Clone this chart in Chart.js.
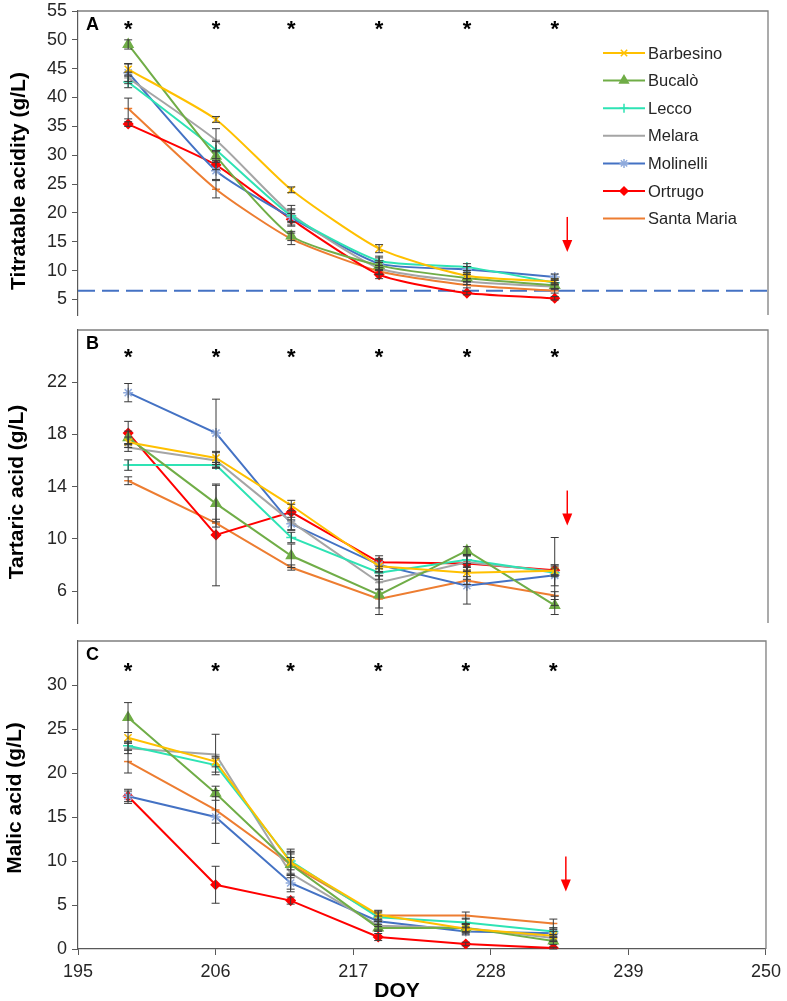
<!DOCTYPE html>
<html>
<head>
<meta charset="utf-8">
<script src="https://cdn.jsdelivr.net/npm/chart.js@4.4.1/dist/chart.umd.min.js"></script>
<style>
  body { margin: 0; background: #fff; }
  #wrap { position: relative; width: 787px; height: 1001px; }
  canvas { position: absolute; left: 0; }
</style>
</head>
<body>
<div id="wrap">
  <canvas id="chartA" width="787" height="322" style="top:0"></canvas>
  <canvas id="chartB" width="787" height="308" style="top:322px"></canvas>
  <canvas id="chartC" width="787" height="371" style="top:630px"></canvas>
</div>
<script>
// sampling dates (day of year)
const doy = [199, 206, 212, 219, 226, 233];
const cultivars = ['Barbesino', 'Bucalò', 'Lecco', 'Melara', 'Molinelli', 'Ortrugo', 'Santa Maria'];

// Titratable acidity (g/L), one row per cultivar
const titratable = [
  [44.9, 36.2, 24.0, 13.8, 9.1, 8.1],
  [49.2, 29.8, 16.0, 10.9, 8.7, 7.4],
  [42.7, 30.9, 19.5, 11.7, 10.6, 7.9],
  [43.4, 32.6, 19.8, 10.4, 8.1, 7.2],
  [44.3, 27.3, 19.2, 11.2, 10.2, 8.9],
  [35.4, 28.3, 18.9, 9.3, 6.1, 5.2],
  [38.1, 24.1, 15.5, 9.9, 7.5, 6.5]
];
const titratableErr = [
  [1.0, 0.5, 0.5, 0.7, 0.5, 0.5],
  [0.8, 1.0, 0.8, 0.8, 0.6, 0.5],
  [1.0, 1.5, 1.0, 0.8, 0.6, 0.4],
  [1.0, 2.0, 1.5, 1.0, 0.5, 0.5],
  [1.5, 1.5, 1.5, 1.0, 0.5, 0.5],
  [0.4, 0.8, 1.0, 0.7, 0.3, 0.3],
  [1.8, 1.5, 1.0, 0.6, 0.5, 0.4]
];

// Tartaric acid (g/L)
const tartaric = [
  [17.4, 16.2, 12.55, 7.9, 7.4, 7.55],
  [17.75, 12.7, 8.7, 5.7, 9.1, 4.9],
  [15.65, 15.65, 10.1, 7.4, 8.4, 7.4],
  [17.0, 16.0, 11.3, 6.65, 8.2, 7.5],
  [21.2, 18.1, 11.15, 8.0, 6.4, 7.2],
  [18.1, 10.3, 12.05, 8.2, 8.1, 7.6],
  [14.45, 11.2, 7.8, 5.4, 6.8, 5.65]
];
const tartaricErr = [
  [0.4, 0.5, 0.4, 0.5, 0.5, 0.3],
  [0.5, 1.4, 0.9, 1.5, 0.3, 0.7],
  [0.4, 0.2, 0.4, 0.5, 0.3, 0.3],
  [0.3, 0.6, 0.6, 0.5, 0.6, 2.6],
  [0.7, 2.6, 0.5, 0.5, 1.4, 0.8],
  [0.9, 3.9, 0.6, 0.5, 0.6, 0.4],
  [0.3, 0.3, 0.2, 0.7, 0.3, 0.3]
];

// Malic acid (g/L)
const malic = [
  [24.0, 21.3, 9.85, 3.9, 2.3, 1.5],
  [26.3, 17.7, 9.6, 2.4, 2.4, 0.9],
  [23.1, 20.9, 10.0, 3.6, 3.0, 2.0],
  [22.8, 22.1, 8.6, 2.65, 2.4, 1.25],
  [17.35, 15.0, 7.5, 3.15, 2.0, 1.8],
  [17.35, 7.3, 5.5, 1.36, 0.57, 0.1],
  [21.3, 15.8, 9.6, 3.8, 3.8, 2.9]
];
const malicErr = [
  [0.6, 0.6, 1.5, 0.5, 0.5, 0.5],
  [1.7, 0.8, 1.5, 0.4, 0.4, 0.4],
  [0.5, 0.8, 1.0, 0.5, 0.5, 0.4],
  [0.6, 2.3, 1.8, 0.5, 0.5, 0.4],
  [0.6, 3.0, 1.0, 0.6, 0.4, 0.4],
  [0.8, 2.1, 0.4, 0.4, 0.2, 0.1],
  [1.3, 1.5, 1.2, 0.5, 0.4, 0.5]
];

const xTicks = [195, 206, 217, 228, 239, 250];
const ticksA = [5, 10, 15, 20, 25, 30, 35, 40, 45, 50, 55];
const ticksB = [6, 10, 14, 18, 22];
const ticksC = [0, 5, 10, 15, 20, 25, 30];
const threshold = 6.5;   // dashed line in panel A
const arrowDoy = 234;

// styles
const lineColors = ['#FFC000', '#70AD47', '#2EE3B4', '#A5A5A5', '#4472C4', '#FF0000', '#ED7D31'];
const markColors = ['#FFC000', '#70AD47', '#2EE3B4', '#A5A5A5', '#8FAADC', '#FF0000', '#ED7D31'];
const markStyles = ['crossRot', 'triangle', 'cross', 'line', 'star', 'rectRot', 'line'];
const markSizes = [5, 5.5, 5, 4, 5, 4.5, 4];

Chart.defaults.font.family = "'Liberation Sans', Arial, sans-serif";
Chart.defaults.color = '#262626';

const panelPlugin = {
  id: 'panel',
  afterDatasetsDraw(chart, args, o) {
    const { ctx, chartArea: a, scales: { x, y } } = chart;
    ctx.save();

    // error bars
    ctx.strokeStyle = '#3a3a3a';
    ctx.lineWidth = 1;
    o.errors.forEach((errs, si) => {
      errs.forEach((e, i) => {
        const v = o.values[si][i];
        const px = x.getPixelForValue(doy[i]);
        const t = y.getPixelForValue(v + e), b = y.getPixelForValue(v - e);
        ctx.beginPath();
        ctx.moveTo(px, t); ctx.lineTo(px, b);
        ctx.moveTo(px - 4, t); ctx.lineTo(px + 4, t);
        ctx.moveTo(px - 4, b); ctx.lineTo(px + 4, b);
        ctx.stroke();
      });
    });

    // frame (top and right)
    ctx.strokeStyle = '#7f7f7f';
    ctx.lineWidth = 1.3;
    ctx.beginPath();
    ctx.moveTo(a.left, a.top); ctx.lineTo(a.right, a.top); ctx.lineTo(a.right, a.bottom);
    ctx.stroke();

    // asterisks
    ctx.fillStyle = '#000';
    ctx.font = "bold 22px 'Liberation Sans', Arial, sans-serif";
    ctx.textAlign = 'center';
    ctx.textBaseline = 'alphabetic';
    doy.forEach(d => {
      ctx.fillText('*', x.getPixelForValue(d), y.getPixelForValue(o.starValue) + 11);
    });

    // panel letter
    ctx.font = "bold 18px 'Liberation Sans', Arial, sans-serif";
    ctx.textAlign = 'left';
    ctx.textBaseline = 'middle';
    ctx.fillText(o.letter, a.left + 8, a.top + 14);

    // red arrow
    const ax = x.getPixelForValue(arrowDoy);
    const ay = y.getPixelForValue(o.arrowTop);
    ctx.strokeStyle = '#FF0000';
    ctx.fillStyle = '#FF0000';
    ctx.lineWidth = 1.5;
    ctx.beginPath();
    ctx.moveTo(ax, ay); ctx.lineTo(ax, ay + 24);
    ctx.stroke();
    ctx.beginPath();
    ctx.moveTo(ax - 5, ay + 23); ctx.lineTo(ax + 5, ay + 23); ctx.lineTo(ax, ay + 35);
    ctx.closePath();
    ctx.fill();

    // y-axis title
    ctx.save();
    ctx.translate(o.titleX, o.titleY);
    ctx.rotate(-Math.PI / 2);
    ctx.fillStyle = '#000';
    ctx.font = "bold 21px 'Liberation Sans', Arial, sans-serif";
    ctx.textAlign = 'center';
    ctx.textBaseline = 'alphabetic';
    ctx.fillText(o.title, 0, 0);
    ctx.restore();

    // legend (panel A only)
    if (o.legend) {
      ctx.font = "16.5px 'Liberation Sans', Arial, sans-serif";
      ctx.textAlign = 'left';
      ctx.textBaseline = 'middle';
      cultivars.forEach((name, i) => {
        const ly = a.top + 42 + i * 27.6;
        const lx = a.right - 165;
        ctx.strokeStyle = lineColors[i];
        ctx.lineWidth = 2;
        ctx.beginPath();
        ctx.moveTo(lx, ly); ctx.lineTo(lx + 42, ly);
        ctx.stroke();
        if (markStyles[i] !== 'line') {
          ctx.strokeStyle = markColors[i];
          ctx.fillStyle = markColors[i];
          ctx.lineWidth = 1.5;
          Chart.helpers.drawPoint(ctx, { pointStyle: markStyles[i], radius: markSizes[i] - 0.5, rotation: 0, borderWidth: 1.5 }, lx + 21, ly);
        }
        ctx.fillStyle = '#262626';
        ctx.fillText(name, lx + 45, ly + 1);
      });
    }

    // x-axis title (panel C only)
    if (o.xTitle) {
      ctx.fillStyle = '#000';
      ctx.font = "bold 21px 'Liberation Sans', Arial, sans-serif";
      ctx.textAlign = 'center';
      ctx.textBaseline = 'alphabetic';
      ctx.fillText(o.xTitle, x.getPixelForValue(220.5), a.bottom + 48);
    }
    ctx.restore();
  }
};

function seriesSets(values, tension) {
  return cultivars.map((name, i) => ({
    label: name,
    data: doy.map((d, j) => ({ x: d, y: values[i][j] })),
    borderColor: lineColors[i],
    backgroundColor: markColors[i],
    pointBorderColor: markColors[i],
    pointStyle: markStyles[i],
    pointRadius: markSizes[i],
    pointBorderWidth: 1.5,
    borderWidth: 2,
    tension: tension
  }));
}

function yScale(min, max, ticks) {
  return {
    type: 'linear',
    min: min,
    max: max,
    afterBuildTicks: s => { s.ticks = ticks.map(v => ({ value: v })); },
    afterFit: s => {
      s.width = 78;
      // keep the plot area where the layout padding puts it
      s.paddingTop = 0;
      s.paddingBottom = 0;
    },
    border: { color: '#595959', width: 1.2 },
    grid: { drawOnChartArea: false, tickLength: 6, color: '#595959' },
    ticks: { font: { size: 18 }, color: '#262626', padding: 5 }
  };
}

function xScale(show) {
  return {
    type: 'linear',
    min: 195,
    max: 250,
    display: show,
    afterBuildTicks: s => { s.ticks = xTicks.map(v => ({ value: v })); },
    afterFit: s => { s.height = show ? 52 : 0; },
    border: { color: '#595959', width: 1.2 },
    grid: { drawOnChartArea: false, tickLength: 6, color: '#595959' },
    ticks: { font: { size: 18 }, color: '#262626', padding: 6 }
  };
}

function makePanel(id, values, errors, opts) {
  const datasets = seriesSets(values, opts.tension);
  if (opts.threshold !== undefined) {
    datasets.push({
      label: 'limit',
      data: [{ x: 195, y: opts.threshold }, { x: 250, y: opts.threshold }],
      borderColor: '#4472C4',
      borderWidth: 2.2,
      borderDash: [17, 7],
      pointRadius: 0
    });
  }
  return new Chart(document.getElementById(id), {
    type: 'line',
    data: { datasets: datasets },
    plugins: [panelPlugin],
    options: {
      responsive: false,
      animation: false,
      layout: { padding: opts.padding },
      plugins: {
        legend: { display: false },
        tooltip: { enabled: false },
        panel: {
          values: values,
          errors: errors,
          letter: opts.letter,
          starValue: opts.starValue,
          arrowTop: opts.arrowTop,
          title: opts.title,
          titleX: opts.titleX,
          titleY: opts.titleY,
          legend: opts.legend,
          xTitle: opts.xTitle
        }
      },
      scales: {
        x: xScale(opts.showX),
        y: yScale(opts.min, opts.max, opts.ticks)
      }
    }
  });
}

makePanel('chartA', titratable, titratableErr, {
  letter: 'A', min: 2.3, max: 55, ticks: ticksA, starValue: 52.6, arrowTop: 19.3,
  title: 'Titratable acidity (g/L)', titleX: 25, titleY: 181, legend: true,
  threshold: threshold, tension: 0.2, showX: false,
  padding: { top: 11, right: 19, bottom: 5, left: 0 }
});

makePanel('chartB', tartaric, tartaricErr, {
  letter: 'B', min: 3.55, max: 26, ticks: ticksB, starValue: 24.2, arrowTop: 13.7,
  title: 'Tartaric acid (g/L)', titleX: 23, titleY: 170, legend: false,
  tension: 0, showX: false,
  padding: { top: 8, right: 19, bottom: 3, left: 0 }
});

makePanel('chartC', malic, malicErr, {
  letter: 'C', min: 0, max: 35, ticks: ticksC, starValue: 32, arrowTop: 10.5,
  title: 'Malic acid (g/L)', titleX: 21, titleY: 168, legend: false,
  tension: 0, showX: true, xTitle: 'DOY',
  padding: { top: 11, right: 19, bottom: 0, left: 0 }
});
</script>
</body>
</html>
